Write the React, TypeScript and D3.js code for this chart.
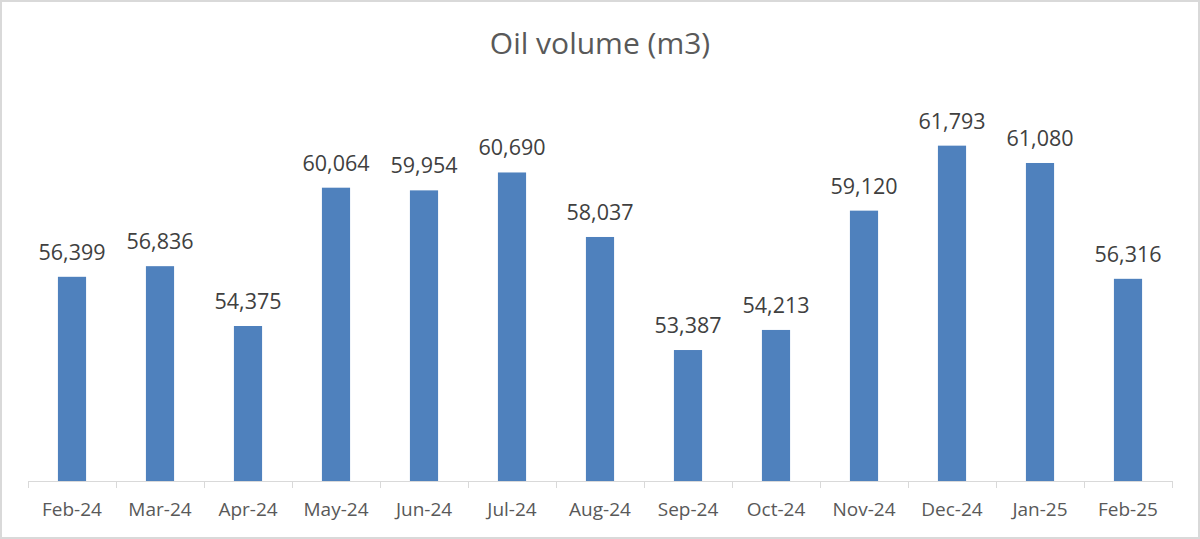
import React from "react";
import * as d3 from "d3";

const months = ["Feb-24","Mar-24","Apr-24","May-24","Jun-24","Jul-24","Aug-24","Sep-24","Oct-24","Nov-24","Dec-24","Jan-25","Feb-25"];
const volumes = [56399,56836,54375,60064,59954,60690,58037,53387,54213,59120,61793,61080,56316];
const yDomain = [48000, 64000];

export default function App() {
  const W = 1200, H = 539;
  const x = d3.scaleBand<string>().domain(months).range([28, 1172]).paddingInner(0.68).paddingOuter(0.34);
  const band = d3.scaleBand<string>().domain(months).range([28, 1172]).padding(0);
  const y = d3.scaleLinear().domain(yDomain).range([481, 92]);
  const fmt = d3.format(",");
  const font = "'Open Sans', sans-serif";
  return (
    <div style={{ position: "absolute", left: 0, top: 0 }}>
      <svg width={W} height={H} style={{ display: "block" }}>
        <rect x={0} y={0} width={W} height={H} fill="#fff" />
        <rect x={1} y={1} width={W - 2} height={H - 2} fill="none" stroke="#d9d9d9" strokeWidth={2} />
        <text x={600} y={54} textAnchor="middle" fontFamily={font} fontSize={30} fill="#595959">Oil volume (m3)</text>
        {months.map((m, i) => (
          <g key={m}>
            <rect x={x(m)} y={y(volumes[i])} width={x.bandwidth()} height={y(yDomain[0]) - y(volumes[i])} fill="#4f81bd" />
            <text x={(x(m) as number) + x.bandwidth() / 2} y={y(volumes[i]) - 17} textAnchor="middle" fontFamily={font} fontSize={21.5} fill="#404040">{fmt(volumes[i])}</text>
            <text x={(band(m) as number) + band.bandwidth() / 2} y={516} textAnchor="middle" fontFamily={font} fontSize={19} fill="#595959">{m}</text>
          </g>
        ))}
        <line x1={28} x2={1172} y1={481.5} y2={481.5} stroke="#d9d9d9" strokeWidth={1} />
        {[...months.map((m) => band(m) as number), 1172].map((t, i) => (
          <line key={i} x1={t + 0.5} x2={t + 0.5} y1={481} y2={488} stroke="#d9d9d9" strokeWidth={1} />
        ))}
      </svg>
    </div>
  );
}
